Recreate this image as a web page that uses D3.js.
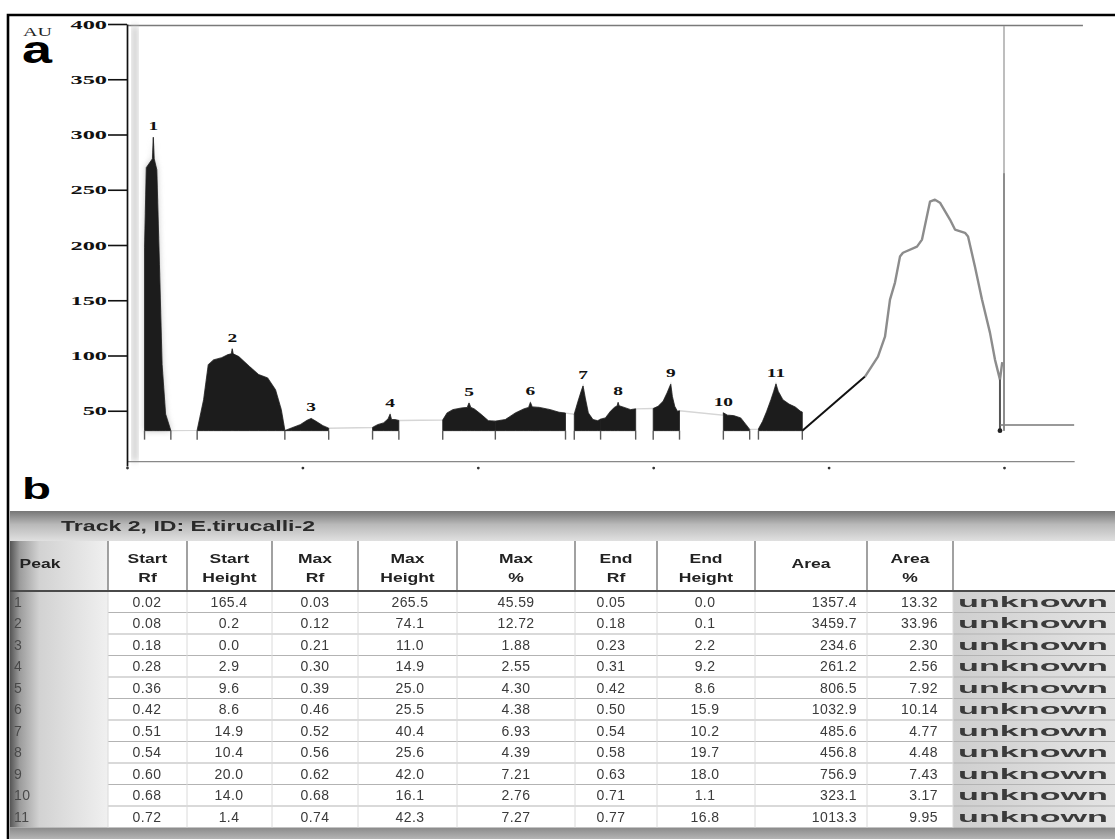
<!DOCTYPE html>
<html>
<head>
<meta charset="utf-8">
<title>Densitogram – Track 2</title>
<script src="https://cdn.jsdelivr.net/npm/d3@7"></script>
<style>
  html, body { margin: 0; padding: 0; background: #fff; }
  svg { display: block; }
</style>
</head>
<body>
<svg id="fig" width="1115" height="839"></svg>
<script>
// ---------- peak table, track 2 ----------
const peakNo      = [1, 2, 3, 4, 5, 6, 7, 8, 9, 10, 11];
const startRf     = [0.02, 0.08, 0.18, 0.28, 0.36, 0.42, 0.51, 0.54, 0.60, 0.68, 0.72];
const startHeight = [165.4, 0.2, 0.0, 2.9, 9.6, 8.6, 14.9, 10.4, 20.0, 14.0, 1.4];
const maxRf       = [0.03, 0.12, 0.21, 0.30, 0.39, 0.46, 0.52, 0.56, 0.62, 0.68, 0.74];
const maxHeight   = [265.5, 74.1, 11.0, 14.9, 25.0, 25.5, 40.4, 25.6, 42.0, 16.1, 42.3];
const maxPercent  = [45.59, 12.72, 1.88, 2.55, 4.30, 4.38, 6.93, 4.39, 7.21, 2.76, 7.27];
const endRf       = [0.05, 0.18, 0.23, 0.31, 0.42, 0.50, 0.54, 0.58, 0.63, 0.71, 0.77];
const endHeight   = [0.0, 0.1, 2.2, 9.2, 8.6, 15.9, 10.2, 19.7, 18.0, 1.1, 16.8];
const peakArea    = [1357.4, 3459.7, 234.6, 261.2, 806.5, 1032.9, 485.6, 456.8, 756.9, 323.1, 1013.3];
const areaPercent = [13.32, 33.96, 2.30, 2.56, 7.92, 10.14, 4.77, 4.48, 7.43, 3.17, 9.95];
const substance   = ["unknown", "unknown", "unknown", "unknown", "unknown", "unknown",
                     "unknown", "unknown", "unknown", "unknown", "unknown"];

// ---------- scan profile between the tabulated points (Rf, AU above baseline) ----------
const outlineRf = [
  0.022, 0.029, 0.031, 0.034, 0.037, 0.040, 0.044,
  0.0874, 0.0927, 0.0987, 0.1081, 0.1152, 0.119, 0.121, 0.1274, 0.1397, 0.1501, 0.1603, 0.1693, 0.1759,
  0.1877, 0.1976, 0.2053, 0.2155, 0.2233,
  0.2858, 0.2926, 0.2977, 0.3016, 0.3055,
  0.365, 0.3716, 0.3816, 0.388, 0.392, 0.396, 0.404, 0.412,
  0.4314, 0.4429, 0.4524, 0.458, 0.462, 0.4702, 0.4825, 0.4927,
  0.5143, 0.5179, 0.5225, 0.526, 0.5313, 0.5366,
  0.5456, 0.5513, 0.5558, 0.559, 0.561, 0.5668, 0.5742,
  0.6056, 0.6113, 0.6158, 0.6218, 0.6245, 0.6276,
  0.6845, 0.6916, 0.6997, 0.7058,
  0.7248, 0.7295, 0.7343, 0.7375, 0.7425, 0.7478, 0.7548, 0.7619, 0.7679
];
const outlineHeight = [
  238, 246, 246, 236, 150, 60, 15,
  28, 59.7, 64, 66, 68.8, 69.5, 69.5, 67, 58, 50.7, 47.7, 37, 19,
  2.4, 5.4, 9.3, 8.4, 4.5,
  5.4, 7, 10.6, 10, 10,
  16, 19, 20.5, 21, 21, 19.6, 14.5, 9,
  10, 16, 19.6, 21, 21.5, 21, 19, 16.6,
  26.5, 35.6, 29.6, 16, 10, 9,
  11.5, 17.5, 21, 22.5, 22.5, 21, 19,
  22, 26.5, 34, 31, 22, 17.5,
  14, 13.6, 11.5, 5.4,
  8.4, 17.5, 28, 35.6, 35.6, 28, 24, 21.4, 17.5
];

// unintegrated zone in front of the solvent front
const frontRf = [0.8415, 0.8563, 0.8643, 0.870, 0.8757, 0.8814, 0.8848, 0.9008, 0.9065, 0.9156, 0.9213,
                 0.927, 0.9384, 0.9441, 0.9555, 0.959, 0.9669, 0.9749, 0.984, 0.9897, 0.9954, 0.998];
const frontHeight = [48.9, 67, 85, 118.6, 134, 157.5, 161, 166.5, 172.9, 207.2, 209,
                     206.3, 191, 182, 179, 175.6, 148.4, 118.6, 88.7, 64.3, 46.2, 62];

const auTicks = [50, 100, 150, 200, 250, 300, 350, 400];
const rfTicks = [0, 0.2, 0.4, 0.6, 0.8, 1.0];

const trackTitle = "Track 2, ID: E.tirucalli-2";
const headLine1 = ["Peak", "Start", "Start", "Max", "Max", "Max", "End", "End", "Area", "Area", ""];
const headLine2 = ["", "Rf", "Height", "Rf", "Height", "%", "Rf", "Height", "", "%", ""];

// ---------- layout ----------
const svg = d3.select("#fig");
const SERIF = "'Liberation Serif','Times New Roman',serif";
const SANS = "'Liberation Sans',Arial,sans-serif";

const baselineAU = 32;      // integration baseline, AU
const floorAU = 4.5;        // level of the scanner's Rf track line
const x = d3.scaleLinear().domain([0, 1]).range([127, 1004]);
const y = d3.scaleLinear().domain([0, 400]).range([466, 24]);
const hy = h => y(baselineAU + h);

function stretch(sel, factor) {
  sel.each(function () {
    const w = this.getComputedTextLength();
    d3.select(this).attr("textLength", w * factor).attr("lengthAdjust", "spacingAndGlyphs");
  });
}

const defs = svg.append("defs");
function blur(id, sd) {
  defs.append("filter").attr("id", id).attr("x", "-20%").attr("y", "-20%")
    .attr("width", "140%").attr("height", "140%")
    .append("feGaussianBlur").attr("stdDeviation", sd);
}
blur("soft", 0.6);
blur("haze", 3);
blur("textSoft", 0.45);
function grad(id, x2, y2, stops) {
  const g = defs.append("linearGradient").attr("id", id)
    .attr("x1", 0).attr("y1", 0).attr("x2", x2).attr("y2", y2);
  stops.forEach(([o, c]) => g.append("stop").attr("offset", o).attr("stop-color", c));
}
grad("titleGrad", 0, 1, [[0, "#767676"], [0.45, "#b9b9b9"], [1, "#e0e0e0"]]);
grad("peakColGrad", 1, 0, [[0, "#555"], [0.1, "#9c9c9c"], [0.3, "#d2d2d2"], [1, "#f0f0f0"]]);
grad("bandGrad", 0, 1, [[0, "#8a8a8a"], [1, "#b4b4b4"]]);
grad("assignGrad", 1, 0, [[0, "#cfcfcf"], [1, "#e4e4e4"]]);

// outer frame (open to the right and bottom)
svg.append("path").attr("d", "M8,839 V15 H1115")
  .attr("fill", "none").attr("stroke", "#000").attr("stroke-width", 2.6);

// panel letters
svg.append("text").text("AU").attr("x", 23).attr("y", 36)
  .attr("font-family", SERIF).attr("font-size", 12).attr("fill", "#222")
  .attr("textLength", 29).attr("lengthAdjust", "spacingAndGlyphs");
svg.append("text").text("a").attr("x", 22).attr("y", 63)
  .attr("font-family", SANS).attr("font-weight", "bold").attr("font-size", 38)
  .attr("textLength", 30).attr("lengthAdjust", "spacingAndGlyphs");
svg.append("text").text("b").attr("x", 22).attr("y", 499)
  .attr("font-family", SANS).attr("font-weight", "bold").attr("font-size", 30)
  .attr("textLength", 29).attr("lengthAdjust", "spacingAndGlyphs");

// ---------- panel a : densitogram ----------
const plot = svg.append("g");

// top frame line of the scan window
plot.append("line").attr("x1", x(0)).attr("x2", x(1.09)).attr("y1", y(400) + 1.5).attr("y2", y(400) + 1.5)
  .attr("stroke", "#7a7a7a").attr("stroke-width", 1.5);

// streak at the application origin
plot.append("rect").attr("x", x(0.006)).attr("width", x(0.012) - x(0.006))
  .attr("y", y(400) + 2).attr("height", y(floorAU) - y(400) - 2)
  .attr("fill", "#c4c4c4").attr("filter", "url(#haze)");

// assemble the scan: tabulated start / max / end points plus the outline between them
const peaks = peakNo.map((n, i) => {
  const inner = outlineRf.map((r, k) => ({ rf: r, h: outlineHeight[k] }))
    .filter(p => p.rf > startRf[i] && p.rf < endRf[i]);
  const pts = [{ rf: startRf[i], h: startHeight[i], o: 0 },
               { rf: maxRf[i], h: maxHeight[i], o: 1 },
               { rf: endRf[i], h: endHeight[i], o: 2 }]
    .concat(inner.map(p => ({ ...p, o: 1 })));
  pts.sort((a, b) => a.rf - b.rf || a.o - b.o);
  return { n, i, pts };
});
const scan = peaks.flatMap(p => p.pts);

const area = d3.area().x(d => x(d.rf)).y0(hy(0)).y1(d => hy(d.h));
const line = d3.line().x(d => x(d.rf)).y(d => hy(d.h));

// soft halo round the origin peak
plot.append("path").attr("d", area(peaks[0].pts))
  .attr("fill", "#8a8a8a").attr("opacity", 0.55).attr("filter", "url(#haze)");

// faint scan trace
plot.append("path").attr("d", line(scan))
  .attr("fill", "none").attr("stroke", "#d6d6d6").attr("stroke-width", 1.4);

// integrated peak areas
plot.append("g").attr("filter", "url(#soft)")
  .selectAll("path").data(peaks).join("path")
  .attr("d", d => area(d.pts))
  .attr("fill", "#1f1f1f").attr("stroke", "#1f1f1f").attr("stroke-width", 0.8);

// integration boundary marks under the baseline
const bounds = Array.from(new Set(startRf.concat(endRf)));
plot.append("g").selectAll("line").data(bounds).join("line")
  .attr("x1", d => x(d)).attr("x2", d => x(d))
  .attr("y1", hy(0)).attr("y2", hy(0) + 9)
  .attr("stroke", "#5a5a5a").attr("stroke-width", 1.4);

// baseline segment from the last peak into the front zone
plot.append("line")
  .attr("x1", x(endRf[10])).attr("y1", hy(0))
  .attr("x2", x(frontRf[0])).attr("y2", hy(frontHeight[0]))
  .attr("stroke", "#111").attr("stroke-width", 2);

// front zone trace
const front = frontRf.map((r, k) => ({ rf: r, h: frontHeight[k] }));
plot.append("path").attr("d", line(front))
  .attr("fill", "none").attr("stroke", "#8c8c8c").attr("stroke-width", 2.4)
  .attr("stroke-linejoin", "round");

// drop at the front minimum
const dropRf = frontRf[frontRf.length - 2];
plot.append("line").attr("x1", x(dropRf)).attr("x2", x(dropRf))
  .attr("y1", hy(frontHeight[frontHeight.length - 2])).attr("y2", hy(0))
  .attr("stroke", "#555").attr("stroke-width", 2);
plot.append("circle").attr("cx", x(dropRf)).attr("cy", hy(0)).attr("r", 2.4).attr("fill", "#222");
plot.append("line").attr("x1", x(dropRf)).attr("x2", x(1.08)).attr("y1", hy(5)).attr("y2", hy(5))
  .attr("stroke", "#777").attr("stroke-width", 1.5);

// solvent front marker
plot.append("line").attr("x1", x(1)).attr("x2", x(1)).attr("y1", y(400) + 2).attr("y2", hy(0))
  .attr("stroke", "#a8a8a8").attr("stroke-width", 1.5);
plot.append("line").attr("x1", x(1)).attr("x2", x(1)).attr("y1", y(265)).attr("y2", hy(0))
  .attr("stroke", "#7c7c7c").attr("stroke-width", 1.5);

// Rf track line with tick dots
const xTrack = x.copy().domain([0, 1.08]).range([x(0), x(1.08)]);
const gx = plot.append("g").attr("transform", `translate(0,${y(floorAU)})`)
  .call(d3.axisBottom(xTrack).tickValues(rfTicks).tickSize(0).tickFormat(""));
gx.select(".domain").attr("stroke", "#888").attr("stroke-width", 1.3);
gx.selectAll(".tick line").remove();
gx.selectAll(".tick").append("circle").attr("cy", 7).attr("r", 1.4).attr("fill", "#333");

// AU axis
const gy = plot.append("g").attr("transform", `translate(${x(0)},0)`)
  .call(d3.axisLeft(y).tickValues(auTicks).tickSize(19).tickSizeOuter(0).tickPadding(1)
    .tickFormat(d3.format("d")));
gy.select(".domain").attr("stroke", "#111").attr("stroke-width", 1.7);
gy.selectAll(".tick line").attr("stroke", "#111").attr("stroke-width", 1.6);
gy.selectAll(".tick text")
  .attr("font-family", SERIF).attr("font-weight", "bold").attr("font-size", 12.5).attr("fill", "#111")
  .call(stretch, 1.95);

// peak numbers
plot.append("g").selectAll("text").data(peaks).join("text")
  .text(d => d.n)
  .attr("x", d => x(maxRf[d.i])).attr("y", d => hy(maxHeight[d.i]) - 7)
  .attr("text-anchor", "middle")
  .attr("font-family", SERIF).attr("font-weight", "bold").attr("font-size", 12.5).attr("fill", "#111")
  .call(stretch, 1.55);

// ---------- panel b : peak table ----------
const colX = [10, 108, 187, 272, 358, 457, 575, 657, 755, 867, 953, 1115];
const titleTop = 511, headTop = 541, headBottom = 591, rowH = 21.5;
const bodyBottom = headBottom + rowH * peakNo.length;
const tbl = svg.append("g");

tbl.append("rect").attr("x", colX[0]).attr("y", titleTop).attr("width", 1115 - colX[0])
  .attr("height", headTop - titleTop).attr("fill", "url(#titleGrad)");
tbl.append("rect").attr("x", colX[0]).attr("y", headTop).attr("width", 1115 - colX[0])
  .attr("height", bodyBottom - headTop).attr("fill", "#fff");
tbl.append("rect").attr("x", colX[0]).attr("y", headTop).attr("width", colX[1] - colX[0])
  .attr("height", bodyBottom - headTop).attr("fill", "url(#peakColGrad)");
tbl.append("rect").attr("x", colX[10]).attr("y", headBottom).attr("width", 1115 - colX[10])
  .attr("height", bodyBottom - headBottom).attr("fill", "url(#assignGrad)");
tbl.append("rect").attr("x", colX[0]).attr("y", bodyBottom).attr("width", 1115 - colX[0])
  .attr("height", 839 - bodyBottom).attr("fill", "url(#bandGrad)");

// grid
tbl.append("g").selectAll("line").data(d3.range(1, peakNo.length)).join("line")
  .attr("x1", colX[1]).attr("x2", 1115)
  .attr("y1", k => headBottom + k * rowH).attr("y2", k => headBottom + k * rowH)
  .attr("stroke", "#b3b3b3").attr("stroke-width", 1);
tbl.append("g").selectAll("line").data(colX.slice(1, 11)).join("line")
  .attr("x1", d => d).attr("x2", d => d).attr("y1", headBottom).attr("y2", bodyBottom)
  .attr("stroke", "#dadada").attr("stroke-width", 1);
tbl.append("g").selectAll("line").data(colX.slice(1, 11)).join("line")
  .attr("x1", d => d).attr("x2", d => d).attr("y1", headTop).attr("y2", headBottom)
  .attr("stroke", "#8a8a8a").attr("stroke-width", 1.6);
tbl.append("line").attr("x1", colX[0]).attr("x2", 1115).attr("y1", headBottom).attr("y2", headBottom)
  .attr("stroke", "#4a4a4a").attr("stroke-width", 2);

const tText = tbl.append("g").attr("filter", "url(#textSoft)");

tText.append("text").text(trackTitle).attr("x", 61).attr("y", (titleTop + headTop) / 2)
  .attr("dy", "0.35em").attr("font-family", SANS).attr("font-weight", "bold")
  .attr("font-size", 14).attr("fill", "#2a2a2a")
  .attr("textLength", 254).attr("lengthAdjust", "spacingAndGlyphs");

// header cells
const heads = headLine1.map((t, i) => ({ t1: t, t2: headLine2[i], i }));
const headCx = i => i === 0 ? 40 : (colX[i] + colX[i + 1]) / 2;
const headG = tText.append("g");
headG.selectAll("text.l1").data(heads.filter(d => d.t1 && d.t2)).join("text").attr("class", "l1")
  .text(d => d.t1).attr("x", d => headCx(d.i)).attr("y", 559);
headG.selectAll("text.l2").data(heads.filter(d => d.t1 && d.t2)).join("text").attr("class", "l2")
  .text(d => d.t2).attr("x", d => headCx(d.i)).attr("y", 578);
headG.selectAll("text.l0").data(heads.filter(d => d.t1 && !d.t2)).join("text").attr("class", "l0")
  .text(d => d.t1).attr("x", d => headCx(d.i)).attr("y", 564);
headG.selectAll("text")
  .attr("dy", "0.35em").attr("text-anchor", "middle").attr("font-family", SANS).attr("font-weight", "bold")
  .attr("font-size", 12.5).attr("fill", "#222").call(stretch, 1.4);

// body cells
const rowCy = i => headBottom + rowH * (i + 0.5);
const cols = [
  { v: peakNo,      f: d => String(d),    x: 14,  a: "start" },
  { v: startRf,     f: d => d.toFixed(2), x: 147, a: "middle" },
  { v: startHeight, f: d => d.toFixed(1), x: 229, a: "middle" },
  { v: maxRf,       f: d => d.toFixed(2), x: 315, a: "middle" },
  { v: maxHeight,   f: d => d.toFixed(1), x: 410, a: "middle" },
  { v: maxPercent,  f: d => d.toFixed(2), x: 516, a: "middle" },
  { v: endRf,       f: d => d.toFixed(2), x: 611, a: "middle" },
  { v: endHeight,   f: d => d.toFixed(1), x: 705, a: "middle" },
  { v: peakArea,    f: d => d.toFixed(1), x: 857, a: "end" },
  { v: areaPercent, f: d => d.toFixed(2), x: 938, a: "end" },
  { v: substance,   f: d => d,            x: 958, a: "start" }
];
const cells = cols.flatMap((c, ci) => c.v.map((v, ri) => ({ s: c.f(v), x: c.x, a: c.a, ri, ci })));
const bodyG = tText.append("g");
bodyG.selectAll("text").data(cells).join("text")
  .text(d => d.s).attr("x", d => d.x).attr("y", d => rowCy(d.ri)).attr("dy", "0.36em")
  .attr("text-anchor", d => d.a)
  .attr("font-family", SANS).attr("font-size", 14)
  .attr("font-weight", d => d.ci === 10 ? "bold" : "normal")
  .attr("fill", d => d.ci === 0 ? "#4a4a4a" : "#3a3a3a")
  .attr("letter-spacing", d => d.ci === 10 ? 0 : 0.4);
bodyG.selectAll("text").filter(d => d.ci === 10)
  .attr("textLength", 150).attr("lengthAdjust", "spacingAndGlyphs");
</script>
</body>
</html>
